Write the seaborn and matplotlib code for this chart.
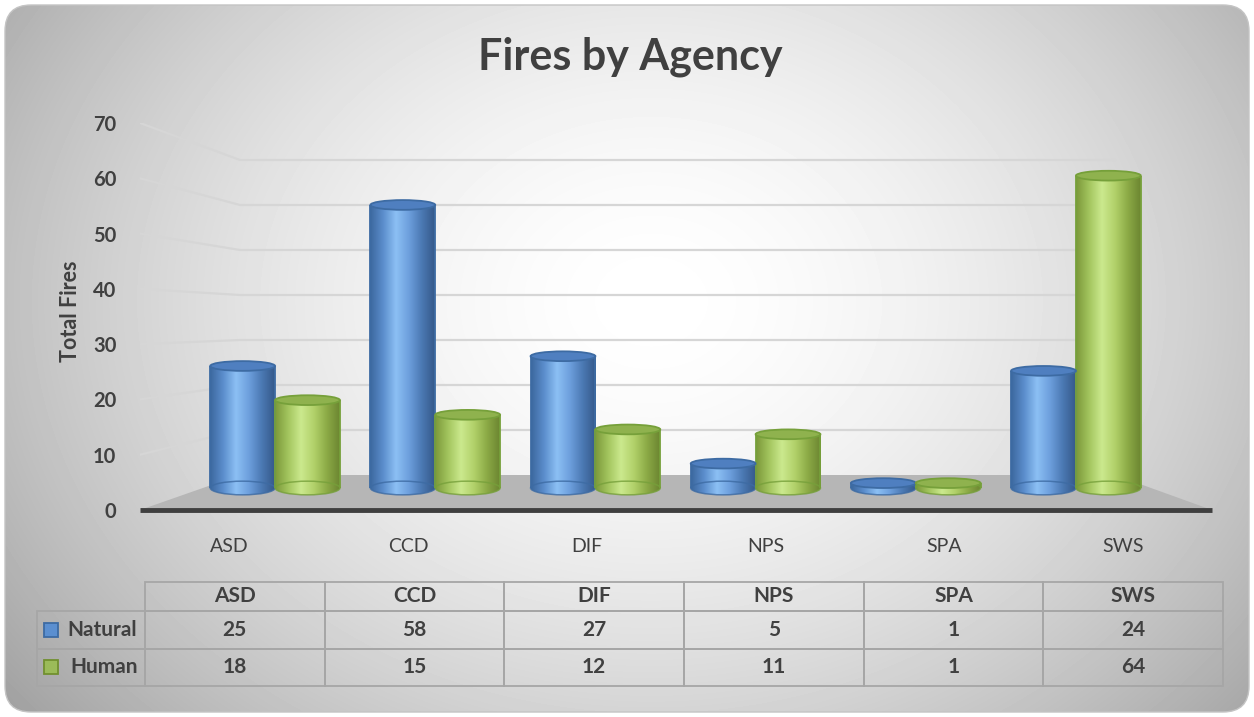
import numpy as np
import pandas as pd
import matplotlib
matplotlib.use("Agg")
import matplotlib.pyplot as plt
import seaborn as sns
from matplotlib.colors import LinearSegmentedColormap
from matplotlib.patches import Ellipse, FancyBboxPatch, Rectangle

# data
agencies = ["ASD", "CCD", "DIF", "NPS", "SPA", "SWS"]
natural = [25, 58, 27, 5, 1, 24]
human = [18, 15, 12, 11, 1, 64]
series = ["Natural", "Human"]
y_ticks = [0, 10, 20, 30, 40, 50, 60, 70]

W, H = 1254, 717
TXT = "#404040"

sns.set_theme(style="white")
plt.rcParams["font.family"] = ["Lato", "DejaVu Sans"]

fig = plt.figure(figsize=(W / 100, H / 100), dpi=100)


def px_axes(left, top, right, bottom, **kw):
    # place an axes using pixel edges measured from the top-left corner
    return fig.add_axes([left / W, 1 - bottom / H, (right - left) / W, (bottom - top) / H], **kw)


# rounded grey card with a radial highlight
bg = px_axes(0, 0, W, H, zorder=-10)
yy, xx = np.mgrid[0:H:3, 0:W:3]
r = np.sqrt(((xx - 650) / 650) ** 2 + ((yy - 300) / 520) ** 2)
shade = 1 - 0.25 * np.clip(r, 0, 1.4) ** 1.7
card = FancyBboxPatch((5, 5), W - 10, H - 10, boxstyle="round,pad=0,rounding_size=26",
                      facecolor="none", edgecolor="#c4c4c4", lw=1)
bg.add_patch(card)
im = bg.imshow(shade, extent=(0, W, H, 0), cmap="gray", vmin=0, vmax=1,
               aspect="auto", interpolation="bilinear")
im.set_clip_path(card)
bg.set_xlim(0, W)
bg.set_ylim(H, 0)
bg.axis("off")

# front axis (ticks, walls, floor)
ax = px_axes(140, 123, 1212, 510)
ax.set_xlim(-0.5, 5.5)
ax.set_ylim(0, 70)
ax.patch.set_alpha(0)
for s in ax.spines.values():
    s.set_visible(False)

unit_px = 387 / 70
floor_depth = 35 / unit_px
back_scale = 4.5 / unit_px
wall_x0, wall_x1 = 100 / 1072, 975 / 1072
side = ax.get_yaxis_transform()

for t in y_ticks[1:]:
    yb = floor_depth + back_scale * t
    ax.plot([0, wall_x0, wall_x1], [t, yb, yb], transform=side,
            color="#d6d6d6", lw=1.6, zorder=0)

ax.fill([0, wall_x0, wall_x1, 1], [0, floor_depth, floor_depth, 0],
        transform=side, color="#b6b6b6", zorder=1, lw=0)
ax.plot([0, 1], [0, 0], transform=side, color="#3f3f3f", lw=3.5,
        solid_capstyle="butt", clip_on=False, zorder=2)

ax.set_yticks(y_ticks)
ax.set_yticklabels([str(t) for t in y_ticks], fontsize=14.5, fontweight="bold", color=TXT)
ax.set_xticks(range(len(agencies)))
ax.set_xticklabels(agencies, fontsize=14, color=TXT)
ax.tick_params(axis="y", length=0, pad=17)
ax.tick_params(axis="x", length=0, pad=20)
ax.grid(False)
ax.set_ylabel("Total Fires", fontsize=15.5, fontweight="bold", color=TXT)
ax.yaxis.set_label_coords(-0.055, 0.514)

# bars sit on the floor, a bit behind the front edge
bar_zero, bar_unit = 488, 4.88
axb = px_axes(195, bar_zero - 70 * bar_unit, 1156, bar_zero + 4 * bar_unit)
df = pd.DataFrame({
    "agency": agencies * 2,
    "cause": ["Natural"] * len(agencies) + ["Human"] * len(agencies),
    "fires": natural + human,
})
sns.barplot(data=df, x="agency", y="fires", hue="cause", hue_order=series,
            palette=["#5b8fd0", "#9bbb59"], width=0.81, saturation=1,
            errorbar=None, legend=False, ax=axb)
axb.axis("off")

styles = {
    "Natural": dict(
        cmap=LinearSegmentedColormap.from_list(
            "nat", ["#3c689e", "#5b8dcc", "#8cc0f4", "#6d9fdd", "#4b79b3", "#35598a"]),
        cap="#4f7fc0", edge="#3d6ba3"),
    "Human": dict(
        cmap=LinearSegmentedColormap.from_list(
            "hum", ["#7b983a", "#a3c55e", "#cbe98e", "#b2d16a", "#8caa46", "#6c8631"]),
        cap="#8fb24e", edge="#76a03a"),
}
top_cap, base_cap = 2.0, 2.8
grad = np.linspace(0, 1, 200)[None, :]

for container, name in zip(axb.containers, series):
    st = styles[name]
    for bar in container:
        x0, w, h = bar.get_x(), bar.get_width(), bar.get_height()
        cx = x0 + w / 2
        bar.set_facecolor("none")
        bar.set_edgecolor("none")
        base = Ellipse((cx, 0), w, base_cap, transform=axb.transData)
        for clip in (bar, base):
            g = axb.imshow(grad, extent=(x0, x0 + w, -base_cap, h), cmap=st["cmap"],
                           aspect="auto", interpolation="bilinear", zorder=2)
            g.set_clip_path(clip)
        axb.vlines([x0, x0 + w], 0, h, color=st["edge"], lw=1.3, zorder=3)
        axb.add_patch(Ellipse((cx, 0), w, base_cap, facecolor="none",
                              edgecolor=st["edge"], lw=1.1, alpha=0.8, zorder=3))
        axb.add_patch(Ellipse((cx, h), w, top_cap, facecolor=st["cap"],
                              edgecolor=st["edge"], lw=1.3, zorder=4))
axb.set_xlim(-0.5, 5.5)
axb.set_ylim(-4, 70)

# data table with legend keys (first column holds the series names)
head_h, row_h, lab_w, col_w = 29, 37.5, 108, 179.67
tab_w = lab_w + 6 * col_w
total_h = head_h + 2 * row_h
axt = px_axes(37, 582, 1223, 686)
axt.axis("off")
cell_text = [[series[0]] + [str(v) for v in natural],
             [series[1]] + [str(v) for v in human]]
tbl = axt.table(cellText=cell_text, colLabels=[""] + agencies,
                cellLoc="center", bbox=[0, 0, 1, 1])
tbl.auto_set_font_size(False)
for (row, col), cell in tbl.get_celld().items():
    cell.set_edgecolor("#a6a6a6")
    cell.set_linewidth(1.3)
    cell.set_facecolor("none")
    cell.set_width(lab_w if col == 0 else col_w)
    cell.set_height(head_h if row == 0 else row_h)
    txt = cell.get_text()
    txt.set_color(TXT)
    txt.set_fontweight("bold")
    txt.set_fontsize(15)
    if col == 0:
        txt.set_ha("right")
        cell.PAD = 0.07
        if row == 0:
            cell.visible_edges = ""

for i, (fc, ec) in enumerate([("#5b8fd0", "#3d6ba3"), ("#9bbb59", "#71902f")]):
    yc = 1 - (head_h + row_h * (i + 0.5)) / total_h
    axt.add_patch(Rectangle((7 / tab_w, yc - 7 / total_h), 14 / tab_w, 14 / total_h,
                            transform=axt.transAxes, facecolor=fc, edgecolor=ec,
                            lw=1.3, clip_on=False, zorder=5))

fig.text(630 / W, 1 - 57 / H, "Fires by Agency", ha="center", va="center",
         fontsize=31, fontweight="bold", color=TXT)

fig.savefig("out.png", dpi=100)
